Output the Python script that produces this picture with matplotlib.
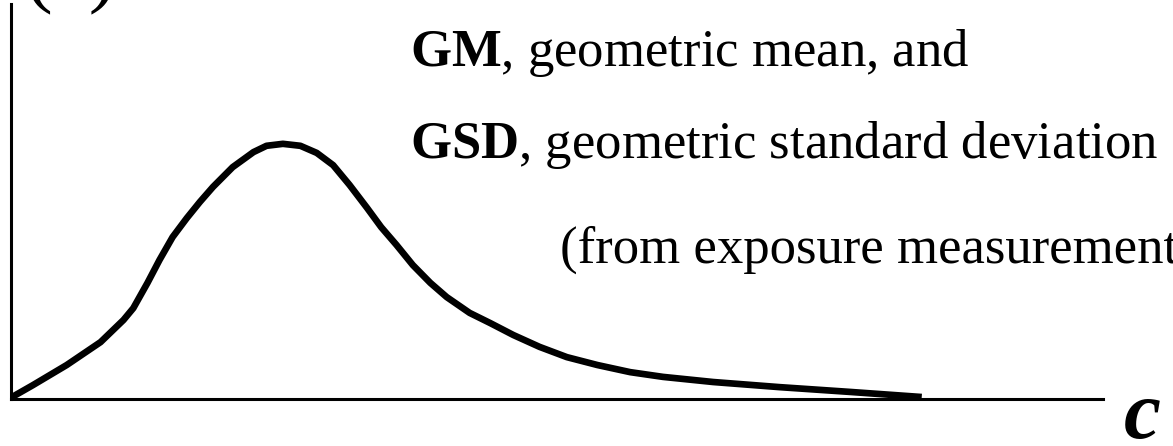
"""
lognormal_sketch.py — 로그정규 노출 분포 개념도 (GM, GSD)
"""

import matplotlib
import matplotlib.pyplot as plt

matplotlib.use("Agg")

plt.rcParams["font.family"] = ["Liberation Serif", "DejaVu Serif"]
plt.rcParams["mathtext.fontset"] = "custom"
plt.rcParams["mathtext.rm"] = "Liberation Serif"
plt.rcParams["mathtext.bf"] = "Liberation Serif:bold"

# ──────────────────────────────────────────────────────────────
# 데이터 (그림에서 읽은 값, 축 범위 0~100 기준)
# ──────────────────────────────────────────────────────────────
conc = [0.1, 2.0, 5.1, 8.2, 10.3, 11.2, 12.5, 13.6, 14.8, 16.1, 17.3,
        18.5, 20.3, 22.2, 23.4, 24.9, 26.5, 28.0, 29.5, 31.0, 32.6,
        33.9, 35.3, 36.8, 38.4, 39.9, 42.0, 43.9, 46.0, 48.4, 50.9,
        53.7, 56.7, 59.7, 64.3, 70.4, 76.8, 83.4]
density = [0.5, 3.5, 8.6, 14.4, 20.0, 23.0, 29.4, 35.2, 41.0, 45.8, 49.9,
           53.7, 58.7, 62.5, 64.1, 64.6, 64.1, 62.3, 59.2, 54.2, 48.4,
           43.5, 39.0, 33.9, 29.4, 25.8, 21.8, 19.2, 16.2, 13.2, 10.6,
           8.6, 6.8, 5.6, 4.3, 3.0, 1.8, 0.5]

line_gm = r"$\mathbf{GM}$, geometric mean, and"
line_gsd = r"$\mathbf{GSD}$, geometric standard deviation"
line_src = "(from exposure measurements)"
x_label = "c"
y_label = "(c)"

W, H = 1173, 446
fig = plt.figure(figsize=(W / 100, H / 100), dpi=100)

# 축 영역: 픽셀 위치 기준
ax = fig.add_axes([11 / W, (H - 399) / H, (1103 - 11) / W, (399 - 4) / H])
ax.plot(conc, density, color="black", lw=4.8, solid_joinstyle="round",
        solid_capstyle="butt", clip_on=False)
ax.set_xlim(0, 100)
ax.set_ylim(0, 100)
ax.set_xticks([])
ax.set_yticks([])
for side in ("top", "right"):
    ax.spines[side].set_visible(False)
for side in ("left", "bottom"):
    ax.spines[side].set_linewidth(2.2)

# ── 주석 텍스트 ───────────────────────────────────────────
fs = 38
fig.text(410 / W, 1 - 66 / H, line_gm, fontsize=fs, va="baseline")
fig.text(410 / W, 1 - 158 / H, line_gsd, fontsize=fs, va="baseline")
fig.text(560 / W, 1 - 263 / H, line_src, fontsize=fs, va="baseline")

fig.text(1124 / W, 1 - 438 / H, x_label, fontsize=60, style="italic",
         weight="bold", va="baseline")
fig.text(24 / W, 1 + 3 / H, y_label, fontsize=60, va="baseline")

plt.savefig("out.png", dpi=100)
plt.close(fig)
